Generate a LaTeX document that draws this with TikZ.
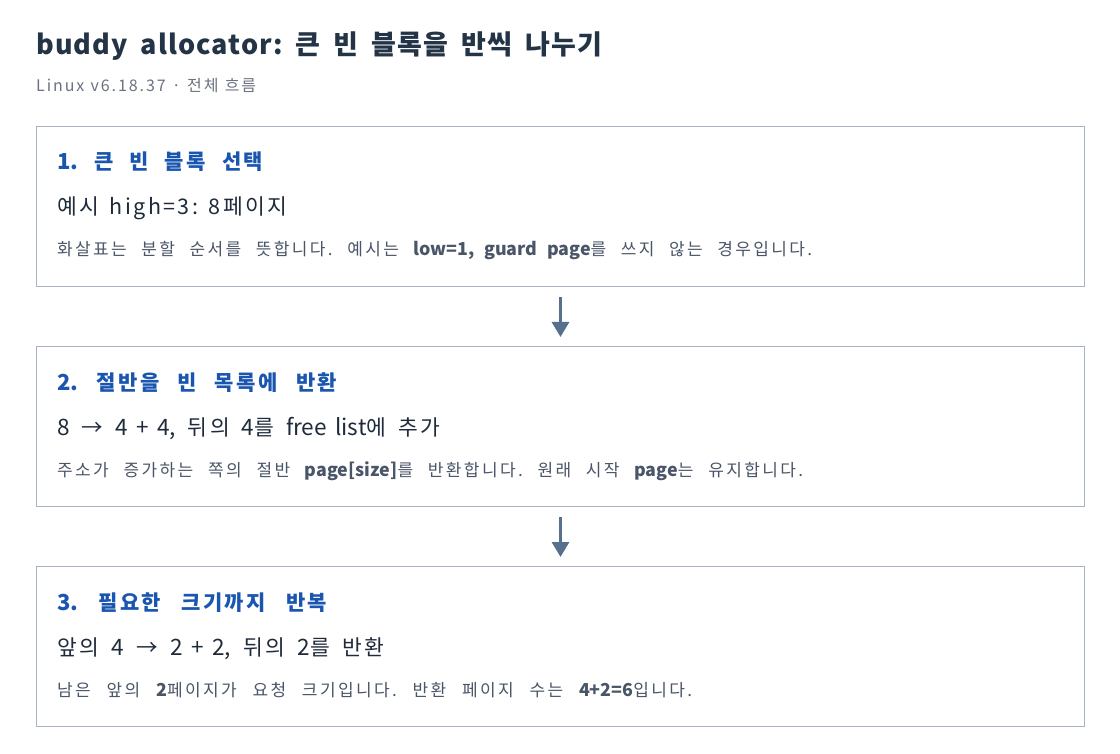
\documentclass[tikz,border=0pt]{standalone}
\usepackage{fontspec}
\setmainfont[LetterSpace=11]{Noto Sans CJK KR}
\newfontfamily\titlefont[LetterSpace=4]{Noto Sans CJK KR}
\newfontfamily\headfont[LetterSpace=12]{Noto Sans CJK KR}
\newfontfamily\notefont[LetterSpace=14]{Noto Sans CJK KR}
\newfontfamily\subfont[LetterSpace=12]{Noto Sans CJK KR}
\newfontfamily\la[Scale=1.05]{Noto Sans CJK KR}
\newcommand{\fitto}[2]{\makebox[#1][s]{#2}}
\frenchspacing
\usetikzlibrary{arrows.meta}
\definecolor{titlec}{HTML}{243447}
\definecolor{subc}{HTML}{6B7280}
\definecolor{headc}{HTML}{1A56B0}
\definecolor{mainc}{HTML}{1F2A3A}
\definecolor{notec}{HTML}{4A5568}
\definecolor{boxc}{HTML}{A9B4C2}
\definecolor{arrc}{HTML}{56708E}
\tikzset{
  stepbox/.style={draw=boxc, line width=1pt, fill=white, minimum width=1048pt, minimum height=160pt, anchor=north west, inner sep=0pt},
  headtxt/.style={anchor=base west, inner sep=0pt, text=headc, font=\headfont\fontsize{21pt}{24pt}\selectfont\bfseries},
  maintxt/.style={anchor=base west, inner sep=0pt, text=mainc, font=\fontsize{21.5pt}{24pt}\selectfont},
  notetxt/.style={anchor=base west, inner sep=0pt, text=notec, font=\notefont\fontsize{17pt}{20pt}\selectfont},
  flowarrow/.style={draw=arrc, line width=3pt, -{Triangle[width=17pt,length=15pt]}}
}
\begin{document}
\begin{tikzpicture}[x=1pt,y=-1pt]
\useasboundingbox[fill=white] (0,0) rectangle (1120,754);
\node[anchor=base west, inner sep=0pt, text=titlec, font=\titlefont\fontsize{27pt}{32pt}\selectfont\bfseries] (title) at (36,55) {\fitto{566pt}{buddy allocator: 큰 빈 블록을 반씩 나누기}};
\node[anchor=base west, inner sep=0pt, text=subc, font=\subfont\fontsize{16pt}{18pt}\selectfont] (sub) at (36,92) {\fitto{220pt}{Linux v6.18.37 · 전체 흐름}};

\node[stepbox] (b1) at (36,126) {};
\node[headtxt] (h1) at (57,170) {\fitto{206pt}{{\la\bfseries 1.} 큰 빈 블록 선택}};
\node[maintxt] (m1) at (57,215) {\fitto{230pt}{예시 high=3: 8페이지}};
\node[notetxt] (n1) at (57,256) {\fitto{755pt}{화살표는 분할 순서를 뜻합니다. 예시는 {\la\bfseries low=1, guard page}를 쓰지 않는 경우입니다.}};

\node[stepbox] (b2) at (36,346) {};
\node[headtxt] (h2) at (57,390) {\fitto{280pt}{{\la\bfseries 2.} 절반을 빈 목록에 반환}};
\node[maintxt] (m2) at (57,435) {\fitto{383pt}{{\la 8} → {\la 4 + 4,} 뒤의 {\la 4}를 {\la free list}에 추가}};
\node[notetxt] (n2) at (57,476) {\fitto{746pt}{주소가 증가하는 쪽의 절반 {\la\bfseries page[size]}를 반환합니다. 원래 시작 {\la\bfseries page}는 유지합니다.}};

\node[stepbox] (b3) at (36,566) {};
\node[headtxt] (h3) at (57,610) {\fitto{270pt}{{\la\bfseries 3.} 필요한 크기까지 반복}};
\node[maintxt] (m3) at (57,655) {\fitto{327pt}{앞의 {\la 4} → {\la 2 + 2,} 뒤의 {\la 2}를 반환}};
\node[notetxt] (n3) at (57,696) {\fitto{635pt}{남은 앞의 {\la\bfseries 2}페이지가 요청 크기입니다. 반환 페이지 수는 {\la\bfseries 4+2=6}입니다.}};

\draw[flowarrow] ([yshift=-10pt]b1.south) -- ([yshift=9pt]b2.north);
\draw[flowarrow] ([yshift=-10pt]b2.south) -- ([yshift=9pt]b3.north);
\end{tikzpicture}
\end{document}
